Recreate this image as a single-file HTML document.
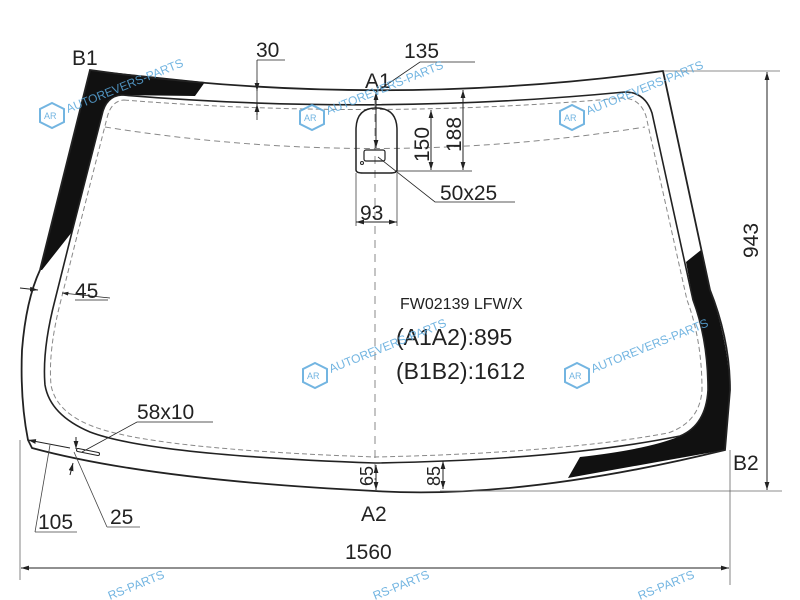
<!DOCTYPE html>
<html><head><meta charset="utf-8"><style>
html,body{margin:0;padding:0;background:#fff;width:800px;height:600px;overflow:hidden}
svg{display:block}
text{font-family:"Liberation Sans",Arial,sans-serif;fill:#222}
.wm{fill:#5aa8dc;font-size:12px}
</style></head><body>
<svg width="800" height="600" viewBox="0 0 800 600" xmlns="http://www.w3.org/2000/svg">
<defs>
<marker id="ar" viewBox="0 0 10 10" refX="10" refY="5" markerWidth="8" markerHeight="8" orient="auto-start-reverse"><path d="M0,2 L10,5 L0,8 z" fill="#222"/></marker>
<g id="logo"><polygon points="12,0 24,6 24,19 12,25 0,19 0,6" fill="none" stroke="#5aa8dc" stroke-width="2"/><text x="4" y="16" font-size="9" style="fill:#5aa8dc">AR</text></g>
</defs>

<!-- black bands -->
<path d="M90,70 L205,82 L195,96 L122,95 Q106,96 102,115 L72,232 L42,270 L40,270 Z" fill="#111"/>
<path d="M686,262 L701,250 L710,290 Q728,340 730,390 L725,450 Q640,465 568,478 L580,457 Q650,449 680,436 Q706,425 708,390 Q708,340 693,300 Z" fill="#111"/>

<!-- outer outline -->
<path d="M90,70 Q375,110 663,71 L710,290 Q730,340 730,390 L725,450 Q520,500 375,491 Q150,480 32,448 L28,440 Q20,400 22,350 Q26,300 40,270 Z" fill="none" stroke="#222" stroke-width="1.8"/>
<!-- inner outline -->
<path d="M122,95 Q375,116 625,92 Q645,92 652,113 L693,300 Q708,340 708,390 Q706,425 680,436 Q560,460 375,463 Q150,455 90,432 Q50,415 45,385 Q42,350 55,300 L72,232 L102,115 Q106,96 122,95 Z" fill="none" stroke="#222" stroke-width="1.6"/>
<!-- inner dashed -->
<path d="M124,100 Q375,120 622,98 Q640,98 646,116 L687,300 Q702,340 702,390 Q700,422 668,433 Q560,453 375,457 Q150,449 92,426 Q56,412 51,385 Q48,350 61,300 L78,232 L107,118 Q111,101 124,100 Z" fill="none" stroke="#888" stroke-width="1" stroke-dasharray="5,3"/>
<path d="M105,127 Q375,170 645,127" fill="none" stroke="#888" stroke-width="1" stroke-dasharray="6,4"/>
<line x1="375" y1="100" x2="375" y2="480" stroke="#888" stroke-width="1" stroke-dasharray="8,6"/>

<!-- sensor -->
<path d="M356,170 L356,130 Q356,108 376,108 Q397,108 397,130 L397,170 Q397,173 390,173 L363,173 Q356,173 356,170 Z" fill="none" stroke="#222" stroke-width="1.5"/>
<rect x="364" y="150" width="21" height="11" rx="2" fill="none" stroke="#222" stroke-width="1.2"/>
<circle cx="362" cy="163" r="1.5" fill="none" stroke="#222"/>
<line x1="376" y1="92" x2="376" y2="148" stroke="#222" marker-start="url(#ar)" marker-end="url(#ar)"/>
<polyline points="378,157 435,202 515,202" fill="none" stroke="#222" stroke-width="0.8"/>
<polyline points="376,92 420,62 475,62" fill="none" stroke="#222" stroke-width="0.8"/>

<!-- 30 -->
<line x1="257" y1="60" x2="257" y2="120" stroke="#222" stroke-width="0.8"/>
<line x1="257" y1="60" x2="285" y2="60" stroke="#222" stroke-width="0.8"/>
<line x1="257" y1="80" x2="257" y2="91" stroke="#222" marker-end="url(#ar)"/>
<line x1="257" y1="115" x2="257" y2="104" stroke="#222" marker-end="url(#ar)"/>
<!-- 150 / 188 -->
<line x1="431" y1="110" x2="431" y2="170" stroke="#222" marker-start="url(#ar)" marker-end="url(#ar)"/>
<line x1="463" y1="90" x2="463" y2="170" stroke="#222" marker-start="url(#ar)" marker-end="url(#ar)"/>
<line x1="395" y1="171" x2="472" y2="171" stroke="#222" stroke-width="0.8"/>
<!-- 93 -->
<line x1="356" y1="173" x2="356" y2="226" stroke="#444" stroke-width="0.8"/>
<line x1="397" y1="173" x2="397" y2="226" stroke="#444" stroke-width="0.8"/>
<line x1="356" y1="222" x2="397" y2="222" stroke="#222" marker-start="url(#ar)" marker-end="url(#ar)"/>

<!-- 45 -->
<line x1="20" y1="288" x2="38" y2="290" stroke="#222" marker-end="url(#ar)"/>
<line x1="110" y1="298" x2="62" y2="293" stroke="#222" stroke-width="0.8" marker-end="url(#ar)"/>
<line x1="75" y1="300" x2="108" y2="300" stroke="#222" stroke-width="0.8"/>

<!-- 58x10 etc -->
<path d="M78,450 L98,454" stroke="#222" stroke-width="4" stroke-linecap="round"/>
<path d="M78,450 L98,454" stroke="#fff" stroke-width="2" stroke-linecap="round"/>
<polyline points="82,452 137,422 213,422" fill="none" stroke="#222" stroke-width="0.8"/>
<line x1="70" y1="448" x2="28" y2="440" stroke="#222" marker-end="url(#ar)"/>
<line x1="50" y1="445" x2="35" y2="532" stroke="#444" stroke-width="0.8"/>
<line x1="35" y1="532" x2="77" y2="532" stroke="#444" stroke-width="0.8"/>
<line x1="76" y1="437" x2="76" y2="449" stroke="#222" marker-end="url(#ar)"/>
<line x1="70" y1="475" x2="73" y2="463" stroke="#222" marker-end="url(#ar)"/>
<line x1="74" y1="452" x2="107" y2="527" stroke="#444" stroke-width="0.8"/>
<line x1="107" y1="527" x2="140" y2="527" stroke="#444" stroke-width="0.8"/>

<!-- 65 / 85 -->
<line x1="376" y1="465" x2="376" y2="490" stroke="#222" marker-start="url(#ar)" marker-end="url(#ar)"/>
<line x1="443" y1="461" x2="443" y2="489" stroke="#222" marker-start="url(#ar)" marker-end="url(#ar)"/>

<!-- 943 -->
<line x1="663" y1="71" x2="780" y2="71" stroke="#666" stroke-width="0.8"/>
<line x1="440" y1="491" x2="782" y2="491" stroke="#666" stroke-width="0.8"/>
<line x1="767" y1="72" x2="767" y2="490" stroke="#222" marker-start="url(#ar)" marker-end="url(#ar)"/>
<!-- 1560 -->
<line x1="20" y1="440" x2="20" y2="580" stroke="#666" stroke-width="0.8"/>
<line x1="730" y1="450" x2="730" y2="585" stroke="#666" stroke-width="0.8"/>
<line x1="21" y1="568" x2="729" y2="568" stroke="#222" marker-start="url(#ar)" marker-end="url(#ar)"/>

<!-- labels -->
<text x="72" y="65" font-size="21">B1</text>
<text x="256" y="57" font-size="21">30</text>
<text x="404" y="58" font-size="21">135</text>
<text x="365" y="88" font-size="21">A1</text>
<text transform="translate(429,162) rotate(-90)" font-size="21">150</text>
<text transform="translate(461,152) rotate(-90)" font-size="21">188</text>
<text x="440" y="200" font-size="21">50x25</text>
<text x="360" y="220" font-size="21">93</text>
<text x="75" y="298" font-size="21">45</text>
<text transform="translate(758,258) rotate(-90)" font-size="21">943</text>
<text x="400" y="309" font-size="16">FW02139 LFW/X</text>
<text x="396" y="345" font-size="23">(A1A2):895</text>
<text x="396" y="379" font-size="23">(B1B2):1612</text>
<text x="137" y="419" font-size="21">58x10</text>
<text transform="translate(373,486) rotate(-90)" font-size="18">65</text>
<text transform="translate(440,486) rotate(-90)" font-size="18">85</text>
<text x="733" y="470" font-size="21">B2</text>
<text x="38" y="529" font-size="21">105</text>
<text x="110" y="524" font-size="21">25</text>
<text x="361" y="521" font-size="21">A2</text>
<text x="345" y="559" font-size="21">1560</text>

<!-- watermarks -->
<g opacity="0.85">
<use href="#logo" x="40" y="103"/><text class="wm" transform="translate(68,113) rotate(-22)">AUTOREVERS-PARTS</text>
<use href="#logo" x="300" y="105"/><text class="wm" transform="translate(328,115) rotate(-22)">AUTOREVERS-PARTS</text>
<use href="#logo" x="560" y="105"/><text class="wm" transform="translate(588,115) rotate(-22)">AUTOREVERS-PARTS</text>
<use href="#logo" x="303" y="363"/><text class="wm" transform="translate(331,373) rotate(-22)">AUTOREVERS-PARTS</text>
<use href="#logo" x="565" y="363"/><text class="wm" transform="translate(593,373) rotate(-22)">AUTOREVERS-PARTS</text>
<text class="wm" transform="translate(110,600) rotate(-22)">RS-PARTS</text>
<text class="wm" transform="translate(375,600) rotate(-22)">RS-PARTS</text>
<text class="wm" transform="translate(640,600) rotate(-22)">RS-PARTS</text>
</g>
</svg>
</body></html>
